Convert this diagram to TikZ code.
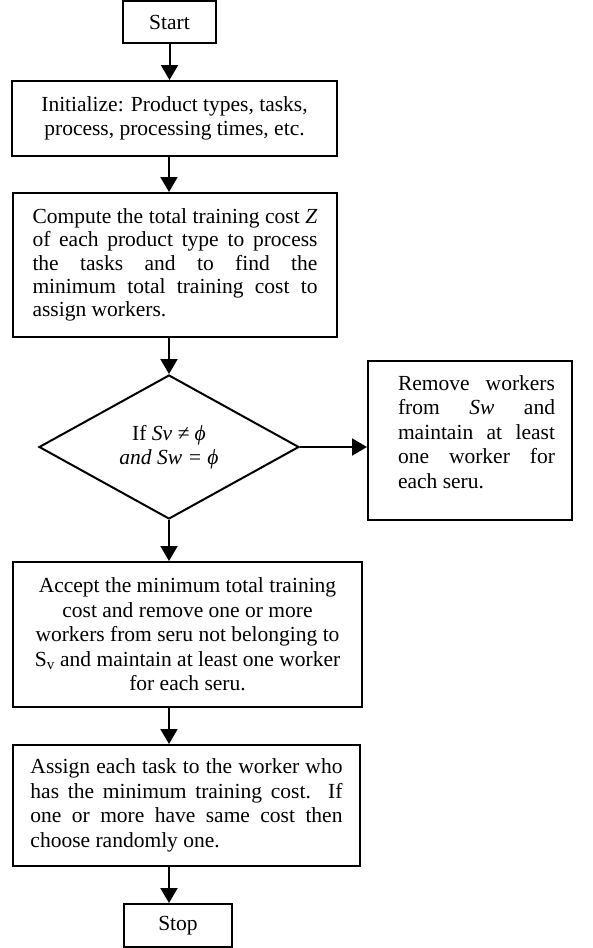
\documentclass[tikz,border=0pt]{standalone}
\usepackage{fontspec}
\setmainfont{Liberation Serif}
\usetikzlibrary{arrows.meta,shapes.geometric}
\tolerance=10000 \hbadness=10000 \hyphenpenalty=10000 \exhyphenpenalty=10000
\begin{document}
\begin{tikzpicture}[x=1pt,y=-1pt,
  box/.style={draw,line width=2pt,inner sep=0pt,font=\fontsize{21.5}{24.5}\selectfont},
  arr/.style={line width=2pt,-{Triangle[length=15pt,width=17pt]}}]
\useasboundingbox (0,0) rectangle (592,948);
\node[box,minimum width=93pt,minimum height=42pt] (start) at (169.5,22) {Start};
\node[box,minimum width=325pt,minimum height=75pt,align=center] (init) at (174.5,118.5)
  {Initialize: Product types, tasks,\\process, processing times, etc.};
\node[box,minimum width=324pt,minimum height=144pt,text width=285pt,align=justify,
  font=\fontsize{21.5}{23.4}\selectfont] (comp) at (175,265)
  {Compute the total training cost \textit{Z}\linebreak of each product type to process\linebreak the tasks and to find the\linebreak minimum total training cost to\linebreak assign workers.};
\node[box,shape=diamond,aspect=1.8,minimum width=260pt,minimum height=144pt,align=center] (dec) at (169,447)
  {If \textit{Sv ≠ ϕ}\\\textit{and Sw = ϕ}};
\node[box,minimum width=204pt,minimum height=159pt] (rem) at (470,440.5)
  {\hspace*{13pt}\begin{minipage}{157pt}Remove workers\linebreak from \textit{Sw} and\linebreak maintain at least\linebreak one worker for\linebreak each seru.\par\vspace*{17pt}\end{minipage}};
\node[box,minimum width=349pt,minimum height=145pt,align=center] (acc) at (187.5,634.5)
  {Accept the minimum total training\\cost and remove one or more\\workers from seru not belonging to\\S\textsubscript{v} and maintain at least one worker\\for each seru.};
\node[box,minimum width=347pt,minimum height=121pt,text width=312pt,align=justify] (asg) at (186.5,805.5)
  {Assign each task to the worker who\linebreak has the minimum training cost. If\linebreak one or more have same cost then\linebreak choose randomly one.};
\node[box,minimum width=108pt,minimum height=43pt] (stop) at (178,925.5) {Stop};
\draw[arr] (start) -- (start |- init.north);
\draw[arr] (dec.north |- init.south) -- (dec.north |- comp.north);
\draw[arr] (dec.north |- comp.south) -- (dec.north);
\draw[arr] (dec.east) -- (dec.east -| rem.west);
\draw[arr] (dec.south) -- (dec.south |- acc.north);
\draw[arr] (dec.south |- acc.south) -- (dec.south |- asg.north);
\draw[arr] (dec.south |- asg.south) -- (dec.south |- stop.north);
\end{tikzpicture}
\end{document}
